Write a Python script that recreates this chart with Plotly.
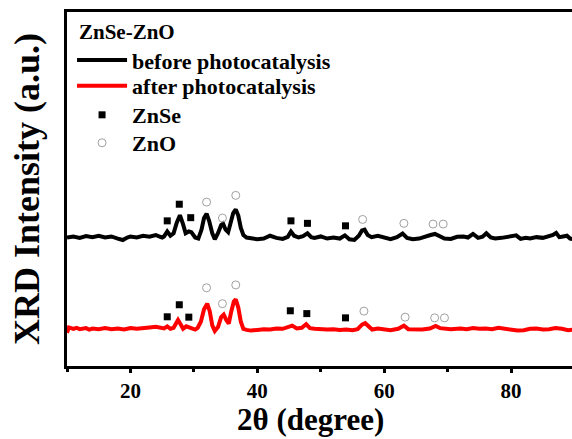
import plotly.graph_objects as go

# ---- data ----
before_x = [10, 11, 12, 13, 14, 15, 16, 17, 18, 18.8, 19.5, 20, 21, 22, 23, 24, 24.5, 25,
            25.3, 25.8, 26.3, 26.8, 27.3, 27.8, 28.3, 28.7, 29.2, 29.6, 30.2, 30.7, 31.2, 31.6,
            32.0, 32.4, 32.9, 33.3, 33.8, 34.3, 34.6, 35.0, 35.4, 35.8, 36.2, 36.6, 37.0, 37.4,
            37.8, 38.3, 39, 40, 41, 41.5, 42, 43, 44, 44.8, 45.3, 45.8, 46.5, 47.2, 47.9, 48.5,
            49, 50, 51, 52, 53, 53.8, 54.5, 55.3, 56.0, 56.5, 56.9, 57.4, 58, 59, 60, 61, 62,
            62.9, 63.6, 64.5, 65.5, 66.5, 67.3, 68, 68.8, 69.5, 70.5, 71.5, 72.5, 73.2, 74, 74.8,
            75.5, 76.1, 76.8, 77.5, 78.5, 79.5, 80.3, 80.8, 81.5, 82.3, 83, 84, 85, 86, 86.6,
            87.1, 87.6, 88.2, 88.8, 89.3, 90]
before_y = [36.3, 36.6, 36.2, 36.7, 36.4, 36.8, 36.3, 36.6, 36.0, 35.6, 36.3, 36.6, 36.3, 36.8,
            36.5, 37.0, 36.6, 36.3,
            36.6, 38.0, 36.8, 37.5, 40.5, 42.6, 40.0, 37.5, 38.0, 37.8, 36.3, 36.0, 38.5, 41.8,
            43.0, 41.0, 37.5, 35.8, 37.5, 39.8, 40.2, 38.5, 37.8, 40.5, 43.2, 44.2, 42.5, 39.0,
            37.0, 36.3, 36.0, 35.8, 36.0, 36.5, 36.8, 36.2, 35.9, 36.5, 38.0, 36.8, 36.3, 36.7,
            37.5, 36.4, 36.2, 36.6, 36.0, 36.3, 36.0, 36.9, 35.8, 35.6, 36.8, 38.3, 38.5, 37.0,
            36.4, 36.8, 36.3, 35.8, 36.4, 37.4, 36.2, 35.8, 36.0, 36.4, 37.0, 37.3, 36.5, 36.0,
            35.9, 36.5, 36.6, 36.3, 37.3, 36.2, 36.5, 37.5, 36.3, 36.0, 36.2, 36.4, 36.7, 36.9,
            35.9, 36.2, 36.0, 36.4, 36.2, 36.6, 37.0, 37.6, 36.4, 36.6, 36.8, 36.0, 35.8]

after_x = [10, 10.3, 11, 11.5, 12, 13, 13.5, 14, 15, 16, 17, 18, 19, 20, 21, 22, 23, 24, 24.7,
           25.3, 25.8, 26.3, 26.8, 27.2, 27.5, 27.9, 28.3, 28.8, 29.3, 29.7, 30.2, 30.6, 31.1,
           31.6, 32.1, 32.5, 32.9, 33.3, 33.8, 34.3, 34.7, 35.1, 35.5, 35.9, 36.3, 36.6, 37.0,
           37.4, 37.8, 38.3, 39, 40, 41, 42, 43, 44, 44.8, 45.5, 46.2, 47, 47.7, 48.3, 49, 50,
           51, 52, 53, 54, 55, 55.8, 56.5, 57.0, 57.5, 58.1, 59, 60, 61, 62.2, 63.1, 63.8, 65,
           66, 67.2, 68.1, 68.8, 69.5, 70.5, 72, 73, 74, 75, 76, 77, 78, 79, 80, 81, 82, 83,
           84, 85, 86, 87, 88, 89, 90]
after_y = [9.4, 10.9, 10.5, 10.8, 10.4, 10.7, 10.3, 10.6, 10.4, 10.7, 10.4, 10.6, 10.3, 10.7,
           10.5, 10.8, 10.9, 11.1, 10.8, 10.6, 11.2, 10.5, 10.8, 12.2, 13.0, 11.8, 10.5, 11.2,
           10.9, 10.6, 10.3, 10.8, 12.5, 16.0, 17.6, 15.5, 11.5, 9.9, 11.0, 13.8, 14.5, 13.0,
           12.0, 15.5, 18.2, 18.8, 16.5, 12.5, 10.5, 10.2, 10.0, 10.2, 10.4, 10.3, 10.6, 10.5,
           10.9, 11.4, 10.6, 10.8, 11.8, 10.7, 10.5, 10.3, 10.3, 10.4, 10.2, 10.3, 10.1, 10.4,
           11.7, 12.1, 11.2, 10.3, 10.6, 10.3, 10.1, 10.5, 11.4, 10.4, 10.4, 10.3, 10.6, 11.3,
           10.7, 10.5, 10.4, 10.6, 10.4, 10.7, 10.5, 10.6, 10.4, 10.8, 10.5, 10.2, 10.0, 10.1,
           10.5, 10.6, 10.3, 10.4, 10.7, 10.5, 10.1, 10.3]

znse_before_x = [25.8, 27.7, 29.5, 45.3, 47.9, 53.9]
znse_before_y = [41.0, 45.7, 41.9, 41.0, 40.3, 39.6]
zno_before_x = [32.0, 34.5, 36.6, 56.6, 63.1, 67.7, 69.3]
zno_before_y = [46.3, 41.8, 48.2, 41.4, 40.3, 40.1, 40.1]

znse_after_x = [25.8, 27.7, 29.2, 45.2, 47.8, 53.9]
znse_after_y = [13.9, 17.3, 13.8, 15.6, 14.8, 13.6]
zno_after_x = [32.0, 34.5, 36.6, 56.8, 63.3, 67.95, 69.5]
zno_after_y = [22.1, 17.6, 22.9, 15.5, 13.8, 13.6, 13.6]

x_ticks = [20, 40, 60, 80]

FONT = "Liberation Serif"

fig = go.Figure()
fig.add_trace(go.Scatter(x=before_x, y=before_y, mode="lines", name="before photocatalysis",
                         legend="legend", line=dict(color="black", width=4)))
fig.add_trace(go.Scatter(x=after_x, y=after_y, mode="lines", name="after photocatalysis",
                         legend="legend2", line=dict(color="#ff0000", width=4)))
fig.add_trace(go.Scatter(x=znse_before_x, y=znse_before_y, mode="markers", name="ZnSe",
                         legend="legend3", legendgroup="znse",
                         marker=dict(symbol="square", size=7, color="black")))
fig.add_trace(go.Scatter(x=zno_before_x, y=zno_before_y, mode="markers", name="ZnO",
                         legend="legend4", legendgroup="zno",
                         marker=dict(symbol="circle-open", size=8, color="#a0a0a0",
                                     line=dict(width=1))))
fig.add_trace(go.Scatter(x=znse_after_x, y=znse_after_y, mode="markers", name="ZnSe",
                         legend="legend3", legendgroup="znse", showlegend=False,
                         marker=dict(symbol="square", size=7, color="black")))
fig.add_trace(go.Scatter(x=zno_after_x, y=zno_after_y, mode="markers", name="ZnO",
                         legend="legend4", legendgroup="zno", showlegend=False,
                         marker=dict(symbol="circle-open", size=8, color="#a0a0a0",
                                     line=dict(width=1))))

legend_font = dict(family=FONT, size=22, color="black", weight="bold")


def leg(ypaper):
    return dict(x=0.01, y=ypaper, xanchor="left", yanchor="middle",
                bgcolor="rgba(0,0,0,0)", font=legend_font, itemwidth=50)


fig.update_layout(
    width=572, height=439,
    margin=dict(l=67, r=0, t=12, b=73),
    paper_bgcolor="white", plot_bgcolor="white",
    font=dict(family=FONT, color="black", weight="bold"),
    showlegend=True,
    legend=leg(0.864),
    legend2=leg(0.791),
    legend3=leg(0.709),
    legend4=leg(0.630),
    annotations=[
        dict(text="ZnSe-ZnO", xref="paper", yref="paper", x=0.02, y=0.944,
             xanchor="left", yanchor="middle", showarrow=False,
             font=dict(family=FONT, size=21, color="black", weight="bold")),
        dict(text="2θ (degree)", xref="paper", yref="paper", x=0.483, y=-0.204,
             xanchor="center", yanchor="bottom", showarrow=False, borderpad=0,
             font=dict(family=FONT, size=31, color="black", weight="bold")),
    ],
    xaxis=dict(
        range=[10, 89.6], tickvals=x_ticks, ticktext=[str(v) for v in x_ticks],
        ticks="outside", ticklen=4, tickwidth=3, tickcolor="black",
        minor=dict(tickvals=[10, 30, 50, 70], ticks="outside", ticklen=3, tickwidth=3,
                   tickcolor="black"),
        showline=True, linewidth=3, linecolor="black", mirror=True,
        showgrid=False, zeroline=False,
        tickfont=dict(family=FONT, size=21, color="black", weight="bold"),
    ),
    yaxis=dict(
        range=[0, 100], showticklabels=False, ticks="",
        showline=True, linewidth=3, linecolor="black", mirror=False,
        showgrid=False, zeroline=False,
        title=dict(text="XRD Intensity (a.u.)", standoff=14,
                   font=dict(family=FONT, size=36, color="black", weight="bold")),
    ),
)

fig.write_html("out.html")
